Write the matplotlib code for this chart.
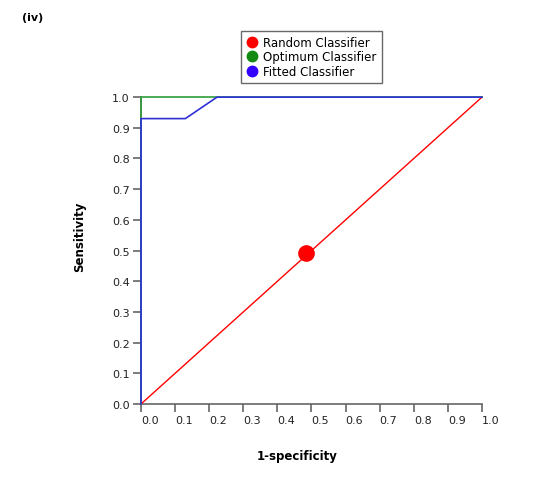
import matplotlib
matplotlib.use("Agg")
import matplotlib.pyplot as plt
from matplotlib.lines import Line2D

# ROC data
fpr_fitted = [0.0, 0.0, 0.13, 0.223, 1.0]
tpr_fitted = [0.0, 0.93, 0.93, 1.0, 1.0]
fpr_optimum = [0.0, 0.0, 1.0]
tpr_optimum = [0.0, 1.0, 1.0]
fpr_random = [0.0, 1.0]
tpr_random = [0.0, 1.0]
random_point = (0.484, 0.492)

ticks = [0.0, 0.1, 0.2, 0.3, 0.4, 0.5, 0.6, 0.7, 0.8, 0.9, 1.0]
tick_labels = ["%.1f" % t for t in ticks]

plt.rcParams['font.family'] = ['DejaVu Sans']

fig = plt.figure(figsize=(5.39, 4.81), dpi=100)
ax = fig.add_axes([0.2616, 0.158, 0.6326, 0.638])

ax.plot(fpr_random, tpr_random, color="#ff0000", lw=1, zorder=2, clip_on=False)
ax.plot(fpr_optimum, tpr_optimum, color="#2e9e3a", lw=1.2, zorder=3, clip_on=False)
ax.plot(fpr_fitted, tpr_fitted, color="#3030d8", lw=1.2, zorder=4, clip_on=False)
ax.plot([random_point[0]], [random_point[1]], "o", color="#ff0000",
        markersize=11, zorder=5, clip_on=False)

ax.set_xlim(0, 1)
ax.set_ylim(0, 1)
ax.set_xticks(ticks)
ax.set_yticks(ticks)
ax.set_xticklabels(tick_labels, ha="left", fontsize=8)
ax.set_yticklabels(tick_labels, fontsize=8)
ax.tick_params(direction="out", length=6, width=1.2, color="#666666",
               pad=2, labelcolor="#222222")

for s in ["top", "right"]:
    ax.spines[s].set_visible(False)
for s in ["left", "bottom"]:
    ax.spines[s].set_color("#666666")
    ax.spines[s].set_linewidth(1.2)
    ax.spines[s].set_zorder(1)

fig.text(297 / 539, 1 - 457 / 481, "1-specificity", fontsize=8.5,
         fontweight="bold", ha="center", va="center")
fig.text(80 / 539, 1 - 237 / 481, "Sensitivity", fontsize=8.5,
         fontweight="bold", ha="center", va="center", rotation=90)

handles = [
    Line2D([], [], ls="none", marker="o", color="#ff0000", markersize=7.5),
    Line2D([], [], ls="none", marker="o", color="#128a12", markersize=7.5),
    Line2D([], [], ls="none", marker="o", color="#3300ff", markersize=7.5),
]
leg = fig.legend(handles, ["Random Classifier", "Optimum Classifier", "Fitted Classifier"],
                 loc="upper left", bbox_to_anchor=(241 / 539, 1 - 32 / 481),
                 fontsize=8.5, frameon=True, fancybox=False, borderpad=0.45,
                 labelspacing=0.1, handletextpad=0.4, handlelength=1.0,
                 borderaxespad=0)
leg.get_frame().set_edgecolor("#444444")
leg.get_frame().set_linewidth(1.0)

fig.text(22 / 539, 1 - 18 / 481, "(iv)", fontsize=8, fontweight="bold",
         va="center", ha="left")

fig.savefig("out.png", dpi=100)
